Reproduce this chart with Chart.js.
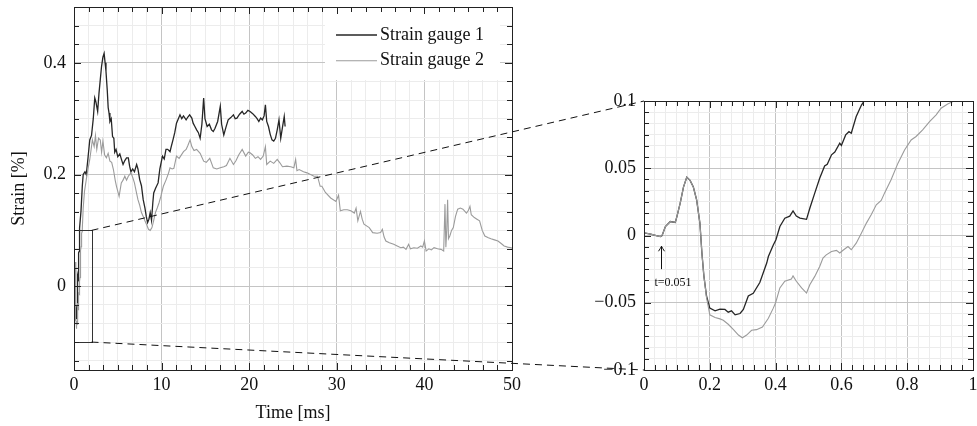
<!DOCTYPE html>
<html>
<head>
<meta charset="utf-8">
<script src="https://cdn.jsdelivr.net/npm/chart.js"></script>
<style>
  html, body { margin: 0; padding: 0; background: #fff; }
  body { width: 977px; height: 426px; position: relative; overflow: hidden; }
  canvas { position: absolute; top: 0; }
  #main { left: 0; }
  #inset { left: 560px; }
  #links { left: 0; pointer-events: none; }
</style>
</head>
<body>
<canvas id="main" width="560" height="426"></canvas>
<canvas id="inset" width="417" height="426"></canvas>
<canvas id="links" width="977" height="426"></canvas>
<script>
"use strict";

// strain gauge records: time in ms, strain in %
var g1Time = [
  0, 0.02, 0.04, 0.05, 0.055, 0.065, 0.08, 0.095, 0.1, 0.11,
  0.12, 0.13, 0.14, 0.15, 0.16, 0.17, 0.176, 0.182, 0.19, 0.2,
  0.216, 0.231, 0.246, 0.256, 0.266, 0.277, 0.292, 0.302, 0.317, 0.332,
  0.352, 0.373, 0.378, 0.393, 0.401, 0.413, 0.428, 0.443, 0.453, 0.463,
  0.474, 0.494, 0.504, 0.519, 0.534, 0.549, 0.557, 0.57, 0.58, 0.595,
  0.6, 0.613, 0.623, 0.63, 0.645, 0.661, 0.668, 0.68, 0.8, 0.95,
  1.05, 1.25, 1.4, 1.6, 1.8, 2.0, 2.2, 2.37, 2.5, 2.7,
  2.85, 3.0, 3.14, 3.3, 3.44, 3.55, 3.65, 3.8, 3.9, 4.0,
  4.1, 4.25, 4.4, 4.55, 4.65, 4.8, 5.0, 5.23, 5.4, 5.6,
  5.8, 6.0, 6.2, 6.35, 6.5, 6.7, 6.9, 7.15, 7.3, 7.5,
  7.7, 7.9, 8.1, 8.25, 8.4, 8.55, 8.7, 8.85, 9.0, 9.1,
  9.3, 9.6, 9.8, 10.1, 10.3, 10.5, 10.7, 10.96, 11.1, 11.3,
  11.5, 11.7, 12.1, 12.3, 12.5, 12.8, 13.0, 13.2, 13.45, 13.6,
  13.8, 14.0, 14.2, 14.4, 14.6, 14.8, 14.95, 15.2, 15.45, 15.7,
  15.9, 16.1, 16.4, 16.7, 16.85, 17.1, 17.35, 17.6, 17.9, 18.2,
  18.4, 18.6, 18.9, 19.2, 19.4, 19.6, 19.85, 20.1, 20.4, 20.7,
  20.9, 21.1, 21.3, 21.5, 21.7, 21.85, 22.0, 22.2, 22.4, 22.6,
  22.8, 23.0, 23.2, 23.4, 23.6, 23.8, 24.0, 24.1
];
var g1Strain = [
  0.002, 0.001, -0.0003, -0.0008, 0, 0.0067, 0.0104, 0.0097, 0.014, 0.024,
  0.036, 0.0433, 0.041, 0.036, 0.0265, 0.009, -0.013, -0.03, -0.045, -0.054,
  -0.056, -0.0547, -0.055, -0.057, -0.056, -0.059, -0.058, -0.055, -0.045, -0.043,
  -0.035, -0.0205, -0.0156, -0.007, -0.0032, 0.0067, 0.0129, 0.0144, 0.0183, 0.0144,
  0.0129, 0.012, 0.0203, 0.0315, 0.0426, 0.0517, 0.053, 0.06, 0.062, 0.0686,
  0.067, 0.0748, 0.0772, 0.076, 0.0884, 0.097, 0.0995, 0.104, 0.135, 0.18,
  0.2, 0.205, 0.2, 0.23, 0.262, 0.27, 0.3, 0.337, 0.33, 0.313,
  0.345, 0.37, 0.393, 0.41, 0.417, 0.4, 0.385, 0.35, 0.32, 0.31,
  0.295, 0.3, 0.268, 0.265, 0.24, 0.245, 0.232, 0.237, 0.228, 0.218,
  0.225, 0.23, 0.23, 0.215, 0.205, 0.21, 0.205, 0.218, 0.21, 0.191,
  0.18, 0.155, 0.14, 0.125, 0.114, 0.12, 0.132, 0.118, 0.15, 0.167,
  0.175, 0.185, 0.21, 0.233, 0.228, 0.245, 0.245, 0.241, 0.25, 0.262,
  0.275, 0.292, 0.307, 0.3, 0.305, 0.298, 0.303, 0.307, 0.301, 0.292,
  0.286, 0.28, 0.275, 0.265, 0.29, 0.337, 0.3, 0.286, 0.29, 0.28,
  0.277, 0.283, 0.295, 0.322, 0.29, 0.271, 0.285, 0.298, 0.302, 0.307,
  0.3, 0.301, 0.308, 0.313, 0.308, 0.31, 0.315, 0.313, 0.309, 0.304,
  0.3, 0.295, 0.301, 0.298, 0.305, 0.325, 0.295, 0.286, 0.272, 0.262,
  0.26, 0.265, 0.28, 0.298, 0.265, 0.285, 0.304, 0.286
];
var g2Time = [
  0, 0.02, 0.04, 0.05, 0.055, 0.065, 0.08, 0.095, 0.1, 0.11,
  0.12, 0.13, 0.14, 0.15, 0.16, 0.17, 0.176, 0.182, 0.19, 0.2,
  0.216, 0.231, 0.241, 0.256, 0.272, 0.287, 0.299, 0.312, 0.327, 0.342,
  0.36, 0.378, 0.393, 0.4, 0.413, 0.428, 0.448, 0.453, 0.463, 0.479,
  0.494, 0.504, 0.519, 0.534, 0.544, 0.554, 0.57, 0.585, 0.595, 0.605,
  0.62, 0.63, 0.645, 0.661, 0.676, 0.691, 0.706, 0.721, 0.731, 0.751,
  0.772, 0.792, 0.812, 0.827, 0.847, 0.868, 0.888, 0.903, 0.923, 0.936,
  0.95, 1.05, 1.2, 1.4, 1.6, 1.8, 2.1, 2.3, 2.45, 2.6,
  2.8, 3.0, 3.15, 3.3, 3.5, 3.7, 3.9, 4.1, 4.3, 4.5,
  4.7, 4.85, 5.0, 5.15, 5.4, 5.6, 5.8, 6.0, 6.2, 6.5,
  6.7, 6.9, 7.1, 7.3, 7.5, 7.7, 7.9, 8.1, 8.3, 8.5,
  8.7, 8.9, 9.1, 9.3, 9.5, 9.7, 9.9, 10.2, 10.5, 10.8,
  10.96, 11.2, 11.4, 11.7, 12.0, 12.5, 12.8, 13.0, 13.25, 13.45,
  13.7, 14.0, 14.4, 14.8, 15.1, 15.5, 15.9, 16.3, 16.7, 17.1,
  17.4, 17.8, 18.2, 18.5, 18.8, 19.2, 19.6, 19.9, 20.1, 20.4,
  20.7, 21.0, 21.3, 21.6, 21.85, 22.0, 22.4, 22.8, 23.2, 23.5,
  23.8, 24.3, 24.75, 25.1, 25.3, 25.45, 25.7, 26.2, 26.6, 27.0,
  27.4, 27.8, 28.1, 28.3, 28.7, 29.3, 29.9, 30.2, 30.4, 30.8,
  31.2, 31.6, 32.0, 32.2, 32.4, 32.7, 32.9, 33.1, 33.7, 34.1,
  34.6, 35.0, 35.2, 35.4, 35.6, 36.0, 36.5, 36.9, 37.3, 37.6,
  37.9, 38.2, 38.4, 38.8, 39.2, 39.6, 39.8, 40.0, 40.2, 40.5,
  40.8, 41.1, 41.5, 41.9, 42.2, 42.35, 42.45, 42.55, 42.65, 42.75,
  42.9, 43.1, 43.3, 43.55, 43.8, 44.1, 44.4, 44.8, 45.0, 45.2,
  45.35, 45.7, 46.0, 46.3, 46.6, 46.9, 47.3, 47.6, 48.0, 48.4,
  48.8, 49.1, 49.5, 49.9, 50
];
var g2Strain = [
  0.002, 0.001, -0.0003, -0.0008, 0, 0.0067, 0.0104, 0.0097, 0.014, 0.024,
  0.036, 0.0433, 0.041, 0.036, 0.0265, 0.009, -0.013, -0.03, -0.046, -0.059,
  -0.061, -0.062, -0.063, -0.066, -0.07, -0.074, -0.076, -0.074, -0.0705, -0.07,
  -0.068, -0.0615, -0.054, -0.05, -0.039, -0.034, -0.0324, -0.03, -0.034, -0.039,
  -0.0428, -0.0366, -0.0304, -0.023, -0.0168, -0.0144, -0.0119, -0.0111, -0.013, -0.011,
  -0.0082, -0.0106, -0.0057, 0.0018, 0.0092, 0.0156, 0.0228, 0.026, 0.0315, 0.0414,
  0.0538, 0.0636, 0.071, 0.0736, 0.0785, 0.0847, 0.0897, 0.0946, 0.0978, 0.0993,
  0.101, 0.14, 0.17, 0.191, 0.21, 0.227, 0.262, 0.25, 0.27, 0.245,
  0.265, 0.262, 0.24, 0.26, 0.235, 0.23, 0.238, 0.224, 0.222, 0.209,
  0.19, 0.179, 0.17, 0.161, 0.185, 0.19, 0.197, 0.19, 0.197, 0.203,
  0.195, 0.185, 0.17, 0.155, 0.145, 0.132, 0.125, 0.117, 0.11, 0.102,
  0.1, 0.105, 0.118, 0.132, 0.14, 0.149, 0.16, 0.179, 0.19, 0.203,
  0.212, 0.21, 0.211, 0.233, 0.229, 0.241, 0.245, 0.252, 0.262, 0.25,
  0.243, 0.245, 0.238, 0.224, 0.222, 0.229, 0.212, 0.21, 0.212, 0.214,
  0.216, 0.229, 0.218, 0.225, 0.235, 0.245, 0.233, 0.24, 0.239, 0.235,
  0.229, 0.232, 0.227, 0.233, 0.25, 0.218, 0.224, 0.22, 0.227, 0.221,
  0.214, 0.215, 0.214, 0.212, 0.227, 0.207, 0.209, 0.205, 0.203, 0.2,
  0.197, 0.197, 0.179, 0.179, 0.168, 0.158, 0.152, 0.163, 0.135, 0.137,
  0.137, 0.135, 0.131, 0.14, 0.117, 0.134, 0.12, 0.111, 0.105, 0.096,
  0.095, 0.096, 0.102, 0.088, 0.081, 0.078, 0.075, 0.072, 0.069, 0.07,
  0.066, 0.075, 0.067, 0.069, 0.068, 0.072, 0.07, 0.081, 0.063, 0.067,
  0.065, 0.069, 0.067, 0.066, 0.063, 0.147, 0.07, 0.1, 0.155, 0.085,
  0.09, 0.1, 0.105, 0.125, 0.138, 0.14, 0.138, 0.131, 0.135, 0.143,
  0.128, 0.123, 0.12, 0.117, 0.1, 0.09, 0.087, 0.085, 0.083, 0.081,
  0.076, 0.072, 0.07, 0.069, 0.068
];
var seriesNames = ["Strain gauge 1", "Strain gauge 2"];

// axis ranges and labelled ticks (6 minor steps between labels)
var mainTimeRange = [0, 50];
var mainStrainRange = [-0.15, 0.5];
var mainTimeTicks = [0, 10, 20, 30, 40, 50];
var mainStrainTicks = [0, 0.2, 0.4];
var insetTimeRange = [0, 1];
var insetStrainRange = [-0.1, 0.1];
var insetTimeTicks = [0, 0.2, 0.4, 0.6, 0.8, 1];
var insetStrainTicks = [-0.1, -0.05, 0, 0.05, 0.1];

// zoom window on the main plot, marked instant in the inset
var zoomTime = [0, 2];
var zoomStrain = [-0.1, 0.1];
var markTime = 0.051;
var markStrain = [-0.025, -0.008];
var markLabel = "t=0.051";

var SERIF = "'Liberation Serif', 'DejaVu Serif', serif";
Chart.defaults.font.family = SERIF;

function toPoints(t, v) {
  return t.map(function (x, i) { return { x: x, y: v[i] }; });
}

function fmt(v) {
  var r = Math.round(v * 1000) / 1000;
  return r < 0 ? "\u2212" + (-r) : String(r);
}

function isMajor(v, labelled) {
  return labelled.some(function (m) { return Math.abs(m - v) < 1e-6; });
}

function gridTicks(range, labelled) {
  var step = (labelled[1] - labelled[0]) / 6;
  var out = [];
  for (var k = Math.ceil(range[0] / step - 1e-6); k * step <= range[1] + 1e-9; k++) {
    out.push({ value: Math.round(k * step * 1e6) / 1e6 });
  }
  return out;
}

function axis(range, labelled, title, extent, horizontal) {
  var cfg = {
    type: "linear",
    min: range[0],
    max: range[1],
    afterBuildTicks: function (s) { s.ticks = gridTicks(range, labelled); },
    afterFit: function (s) {
      if (horizontal) { s.height = extent; s.paddingLeft = 0; s.paddingRight = 0; }
      else { s.width = extent; s.paddingTop = 0; s.paddingBottom = 0; }
    },
    border: { display: false },
    grid: {
      drawTicks: false,
      lineWidth: 1,
      color: function (c) { return isMajor(c.tick.value, labelled) ? "#c4c4c4" : "#ececec"; }
    },
    ticks: {
      autoSkip: false,
      maxRotation: 0,
      padding: horizontal ? 4 : 8,
      color: "#111",
      font: { size: 18, family: SERIF },
      callback: function (v) { return isMajor(v, labelled) ? fmt(v) : ""; }
    },
    title: { display: false }
  };
  if (title) {
    cfg.title = {
      display: true,
      text: title,
      color: "#111",
      font: { size: 18, family: SERIF },
      padding: horizontal ? { top: 0, bottom: 2 } : { top: 8, bottom: 0 }
    };
  }
  return cfg;
}

function makeDatasets() {
  return [
    { label: seriesNames[0], data: toPoints(g1Time, g1Strain), borderColor: "#262626",
      borderWidth: 1.3, pointRadius: 0, tension: 0, order: 1 },
    { label: seriesNames[1], data: toPoints(g2Time, g2Strain), borderColor: "#9b9b9b",
      borderWidth: 1.1, pointRadius: 0, tension: 0, order: 0 }
  ];
}

// box, inward tick marks on all four sides
var frame = {
  id: "frame",
  afterDatasetsDraw: function (chart) {
    var ctx = chart.ctx, a = chart.chartArea, x = chart.scales.x, y = chart.scales.y;
    ctx.save();
    ctx.strokeStyle = "#222";
    ctx.lineWidth = 1;
    ctx.beginPath();
    x.ticks.forEach(function (t) {
      var p = Math.round(x.getPixelForValue(t.value)) + 0.5, len = t.label ? 7 : 5;
      ctx.moveTo(p, a.bottom); ctx.lineTo(p, a.bottom - len);
      ctx.moveTo(p, a.top); ctx.lineTo(p, a.top + len);
    });
    y.ticks.forEach(function (t) {
      var p = Math.round(y.getPixelForValue(t.value)) + 0.5, len = t.label ? 7 : 5;
      ctx.moveTo(a.left, p); ctx.lineTo(a.left + len, p);
      ctx.moveTo(a.right, p); ctx.lineTo(a.right - len, p);
    });
    ctx.stroke();
    ctx.strokeRect(Math.round(a.left) + 0.5, Math.round(a.top) + 0.5,
      Math.round(a.right - a.left), Math.round(a.bottom - a.top));
    ctx.restore();
  }
};

// legend in the upper right corner of the main plot
var boxLegend = {
  id: "boxLegend",
  afterDatasetsDraw: function (chart) {
    var ctx = chart.ctx, a = chart.chartArea;
    var w = 175, x0 = a.right - 12 - w;
    ctx.save();
    ctx.fillStyle = "#fff";
    ctx.fillRect(x0, a.top + 1, w, 72);
    ctx.font = "18px " + SERIF;
    ctx.textBaseline = "middle";
    ctx.fillStyle = "#111";
    chart.data.datasets.forEach(function (ds, i) {
      var yy = a.top + 28 + i * 25.7;
      ctx.strokeStyle = ds.borderColor;
      ctx.lineWidth = ds.borderWidth;
      ctx.beginPath();
      ctx.moveTo(x0 + 11, yy);
      ctx.lineTo(x0 + 52, yy);
      ctx.stroke();
      ctx.fillText(ds.label, x0 + 55, yy);
    });
    ctx.restore();
  }
};

// rectangle showing the zoomed window
var zoomWindow = {
  id: "zoomWindow",
  afterDatasetsDraw: function (chart) {
    var ctx = chart.ctx, x = chart.scales.x, y = chart.scales.y;
    var l = x.getPixelForValue(zoomTime[0]), r = x.getPixelForValue(zoomTime[1]);
    var t = y.getPixelForValue(zoomStrain[1]), b = y.getPixelForValue(zoomStrain[0]);
    ctx.save();
    ctx.strokeStyle = "#333";
    ctx.lineWidth = 1;
    ctx.strokeRect(Math.round(l) + 0.5, Math.round(t) + 0.5, Math.round(r - l), Math.round(b - t));
    ctx.restore();
  }
};

// arrow and label at the marked instant
var markArrow = {
  id: "markArrow",
  afterDatasetsDraw: function (chart) {
    var ctx = chart.ctx, x = chart.scales.x, y = chart.scales.y;
    var px = Math.round(x.getPixelForValue(markTime)) + 0.5;
    var tail = y.getPixelForValue(markStrain[0]), head = y.getPixelForValue(markStrain[1]);
    ctx.save();
    ctx.strokeStyle = "#111";
    ctx.lineWidth = 1;
    ctx.beginPath();
    ctx.moveTo(px, tail); ctx.lineTo(px, head);
    ctx.moveTo(px - 3, head + 5); ctx.quadraticCurveTo(px - 1, head + 2, px, head);
    ctx.moveTo(px + 3, head + 5); ctx.quadraticCurveTo(px + 1, head + 2, px, head);
    ctx.stroke();
    ctx.fillStyle = "#111";
    ctx.font = "12px " + SERIF;
    ctx.textBaseline = "middle";
    ctx.fillText(markLabel, px - 7, tail + 14);
    ctx.restore();
  }
};

var mainChart = new Chart(document.getElementById("main"), {
  type: "line",
  data: { datasets: makeDatasets() },
  options: {
    responsive: false,
    animation: false,
    events: [],
    layout: { padding: { top: 7, right: 48, left: 0, bottom: 0 } },
    scales: {
      x: axis(mainTimeRange, mainTimeTicks, "Time [ms]", 56, true),
      y: axis(mainStrainRange, mainStrainTicks, "Strain [%]", 74, false)
    },
    plugins: { legend: { display: false }, tooltip: { enabled: false } }
  },
  plugins: [boxLegend, zoomWindow, frame]
});

var insetChart = new Chart(document.getElementById("inset"), {
  type: "line",
  data: { datasets: makeDatasets() },
  options: {
    responsive: false,
    animation: false,
    events: [],
    layout: { padding: { top: 101, right: 4, left: 0, bottom: 0 } },
    scales: {
      x: axis(insetTimeRange, insetTimeTicks, null, 56, true),
      y: axis(insetStrainRange, insetStrainTicks, null, 84, false)
    },
    plugins: { legend: { display: false }, tooltip: { enabled: false } }
  },
  plugins: [markArrow, frame]
});

// dashed connectors from the zoom window to the inset corners
(function drawLinks() {
  var ctx = document.getElementById("links").getContext("2d");
  var mb = mainChart.canvas.getBoundingClientRect(), ib = insetChart.canvas.getBoundingClientRect();
  var mx = mainChart.scales.x, my = mainChart.scales.y;
  var ix = insetChart.scales.x, iy = insetChart.scales.y;
  ctx.strokeStyle = "#111";
  ctx.lineWidth = 1;
  ctx.setLineDash([7, 5]);
  [1, 0].forEach(function (k) {
    ctx.beginPath();
    ctx.moveTo(mb.left + mx.getPixelForValue(zoomTime[1]), mb.top + my.getPixelForValue(zoomStrain[k]));
    ctx.lineTo(ib.left + ix.getPixelForValue(insetTimeRange[0]), ib.top + iy.getPixelForValue(insetStrainRange[k]));
    ctx.stroke();
  });
})();
</script>
</body>
</html>
